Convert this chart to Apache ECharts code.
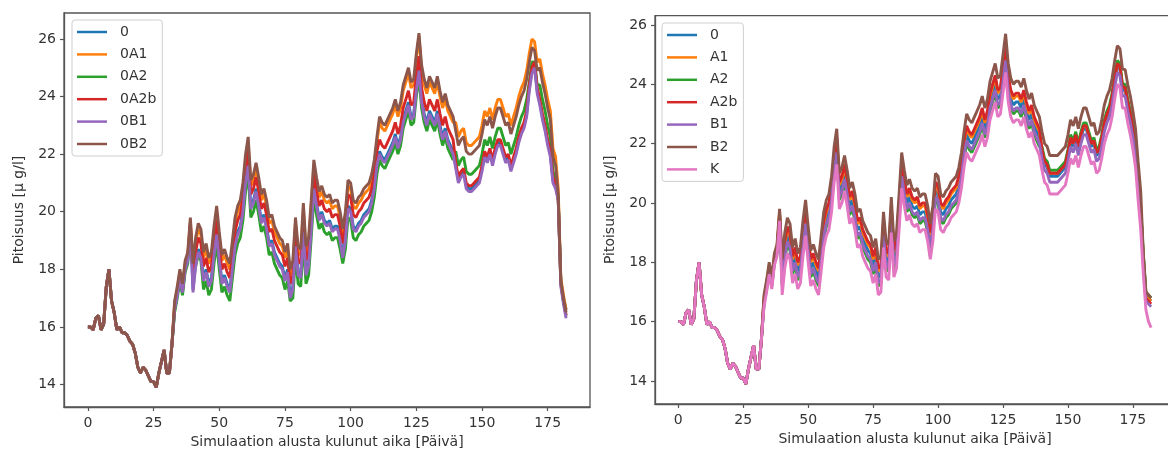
<!DOCTYPE html>
<html><head><meta charset="utf-8">
<script src="https://cdn.jsdelivr.net/npm/echarts@6/dist/echarts.min.js"></script>
<style>html,body{margin:0;padding:0;background:#fff}#c{width:1168px;height:450px}</style>
</head><body><div id="c"></div>
<script>
const X_TITLE = 'Simulaation alusta kulunut aika [Päivä]';
const Y_TITLE = 'Pitoisuus [μ g/l]';
const X_TICKS = [0,25,50,75,100,125,150,175];
const Y_TICKS = [14,16,18,20,22,24,26];
const LEFT_NAMES = ['0','0A1','0A2','0A2b','0B1','0B2'];
const RIGHT_NAMES = ['0','A1','A2','A2b','B1','B2','K'];
const DAYS = Array.from({length:183},(_,i)=>i);

// ---- left panel ----
const L_0 = [
16.0,16.0,15.9,16.3,16.4,15.9,16.1,17.4,18.0,16.9,
16.5,15.9,16.0,15.8,15.8,15.7,15.5,15.4,15.1,14.6,
14.4,14.6,14.5,14.3,14.1,14.1,13.9,14.4,14.8,15.2,
14.4,14.4,15.4,16.6,17.1,17.7,17.2,18.0,18.3,19.5,
17.3,18.2,18.7,18.5,17.7,18.0,17.5,17.7,18.6,19.3,
18.4,17.6,17.8,17.5,17.3,18.1,18.9,19.3,19.5,20.1,
21.1,21.7,20.2,20.4,20.8,20.3,19.7,19.9,19.5,18.9,
19.0,18.6,18.4,18.2,18.1,17.7,18.0,17.1,17.4,18.9,
17.9,17.8,19.4,17.9,18.2,19.5,20.9,20.3,19.8,20.0,
19.7,19.6,19.7,19.4,19.5,19.5,19.1,18.5,19.1,20.2,
20.1,19.5,19.4,19.6,19.7,19.9,20.0,20.1,20.4,20.9,
21.7,22.1,21.9,21.8,22.0,22.2,22.4,22.7,22.3,22.6,
23.2,23.5,23.8,23.3,23.4,24.3,25.0,23.9,23.4,23.1,
23.5,23.3,23.1,23.5,23.0,22.6,22.9,22.5,22.3,22.1,
21.6,21.1,21.3,21.4,20.9,20.8,20.8,20.9,21.0,21.1,
21.5,22.0,21.8,22.1,21.7,22.1,22.4,22.4,22.1,21.8,
21.9,21.5,21.8,22.1,22.5,22.8,23.0,23.4,24.3,24.9,
25.1,24.2,23.8,23.3,22.9,22.4,22.0,21.1,20.9,20.5,
17.6,17.0,16.6];
const L_0A1 = [
16.0,16.0,15.9,16.3,16.4,15.9,16.1,17.4,18.0,16.9,
16.5,15.9,16.0,15.8,15.8,15.7,15.5,15.4,15.1,14.6,
14.4,14.6,14.5,14.3,14.1,14.1,13.9,14.4,14.8,15.2,
14.4,14.4,15.4,16.8,17.3,17.9,17.4,18.2,18.5,19.7,
18.0,18.9,19.4,19.2,18.4,18.7,18.2,18.4,19.3,20.0,
19.1,18.3,18.5,18.2,18.0,18.8,19.6,20.0,20.2,20.8,
21.8,22.4,20.9,21.1,21.5,21.0,20.4,20.6,20.2,19.6,
19.7,19.3,19.1,18.9,18.8,18.4,18.7,17.8,18.1,19.6,
18.6,18.5,20.1,18.6,18.9,20.2,21.6,21.0,20.5,20.7,
20.4,20.3,20.4,20.1,20.2,20.2,19.8,19.2,19.8,20.9,
20.8,20.2,20.1,20.3,20.4,20.6,20.7,20.8,21.1,21.6,
22.4,23.1,22.9,22.8,23.0,23.2,23.4,23.7,23.3,23.6,
24.2,24.5,24.8,24.3,24.4,25.3,26.1,24.9,24.4,24.1,
24.5,24.3,24.1,24.5,24.0,23.6,23.9,23.5,23.3,23.1,
23.1,22.6,22.8,22.9,22.4,22.3,22.3,22.4,22.5,22.6,
23.0,23.5,23.3,23.6,23.2,23.6,23.9,23.9,23.6,23.3,
23.4,23.0,23.3,23.6,24.0,24.3,24.5,24.9,25.5,26.0,
25.9,25.2,25.3,24.8,24.4,23.9,23.5,22.2,21.9,20.8,
17.7,17.1,16.6];
const L_0A2 = [
16.0,16.0,15.9,16.3,16.4,15.9,16.1,17.4,18.0,16.9,
16.5,15.9,16.0,15.8,15.8,15.7,15.5,15.4,15.1,14.6,
14.4,14.6,14.5,14.3,14.1,14.1,13.9,14.4,14.8,15.2,
14.4,14.4,15.4,16.5,17.0,17.6,17.1,17.9,18.2,19.4,
17.9,18.1,18.5,18.3,17.3,17.6,17.1,17.3,18.2,18.9,
18.0,17.2,17.4,17.1,16.9,17.7,18.5,18.9,19.1,19.7,
20.7,21.3,19.8,20.0,20.4,19.9,19.3,19.5,19.1,18.5,
18.6,18.2,18.0,17.8,17.7,17.3,17.6,16.9,17.0,18.5,
17.5,17.4,19.0,17.5,17.8,19.1,20.5,19.9,19.4,19.6,
19.3,19.2,19.3,19.0,19.1,19.1,18.7,18.2,18.7,19.8,
19.7,19.1,19.0,19.2,19.3,19.5,19.6,19.7,20.0,20.5,
21.3,21.8,21.6,21.5,21.7,21.9,22.1,22.4,22.0,22.3,
22.9,23.2,23.5,23.0,23.1,24.0,24.7,23.6,23.1,22.8,
23.2,23.0,22.8,23.2,22.7,22.3,22.6,22.2,22.0,21.8,
22.1,21.6,21.8,21.9,21.4,21.3,21.3,21.4,21.5,21.6,
22.0,22.5,22.3,22.6,22.2,22.6,22.9,22.9,22.6,22.3,
22.4,22.0,22.3,22.6,23.0,23.3,23.5,23.9,24.5,25.2,
25.2,24.4,24.4,23.9,23.5,23.0,22.6,21.4,21.2,20.5,
17.5,16.9,16.4];
const L_0A2b = [
16.0,16.0,15.9,16.3,16.4,15.9,16.1,17.4,18.0,16.9,
16.5,15.9,16.0,15.8,15.8,15.7,15.5,15.4,15.1,14.6,
14.4,14.6,14.5,14.3,14.1,14.1,13.9,14.4,14.8,15.2,
14.4,14.4,15.4,16.7,17.2,17.8,17.3,18.1,18.4,19.6,
17.7,18.6,19.1,18.9,18.1,18.4,17.9,18.1,19.0,19.7,
18.8,18.0,18.2,17.9,17.7,18.5,19.3,19.7,19.9,20.5,
21.5,22.1,20.6,20.8,21.2,20.7,20.1,20.3,19.9,19.3,
19.4,19.0,18.8,18.6,18.5,18.1,18.4,17.5,17.8,19.3,
18.3,18.2,19.8,18.3,18.6,19.9,21.3,20.7,20.2,20.4,
20.1,20.0,20.1,19.8,19.9,19.9,19.5,18.9,19.5,20.6,
20.5,19.9,19.8,20.0,20.1,20.3,20.4,20.5,20.8,21.3,
22.1,22.5,22.3,22.2,22.4,22.6,22.8,23.1,22.7,23.0,
23.6,23.9,24.2,23.7,23.8,24.7,25.4,24.3,23.8,23.5,
23.9,23.7,23.5,23.9,23.4,23.0,23.3,22.9,22.7,22.5,
21.7,21.2,21.4,21.5,21.0,20.9,20.9,21.0,21.1,21.2,
21.6,22.1,21.9,22.2,21.8,22.2,22.5,22.5,22.2,21.9,
22.0,21.6,21.9,22.2,22.6,22.9,23.1,23.5,24.4,25.0,
25.2,24.3,23.9,23.4,23.0,22.5,22.1,21.2,21.0,20.4,
17.5,16.9,16.4];
const L_0B1 = [
16.0,16.0,15.9,16.3,16.4,15.9,16.1,17.4,18.0,16.9,
16.5,15.9,16.0,15.8,15.8,15.7,15.5,15.4,15.1,14.6,
14.4,14.6,14.5,14.3,14.1,14.1,13.9,14.4,14.8,15.2,
14.4,14.4,15.4,16.6,17.1,17.7,17.2,18.0,18.3,19.5,
17.2,18.1,18.6,18.4,17.6,17.9,17.4,17.6,18.5,19.2,
18.3,17.5,17.7,17.4,17.2,18.0,18.8,19.2,19.4,20.0,
21.0,21.6,20.1,20.3,20.7,20.2,19.6,19.8,19.4,18.8,
18.9,18.5,18.3,18.1,18.0,17.6,17.9,17.0,17.3,18.8,
17.8,17.7,19.3,17.8,18.1,19.4,20.8,20.2,19.7,19.9,
19.6,19.5,19.6,19.3,19.4,19.4,19.0,18.4,19.0,20.1,
20.0,19.4,19.3,19.5,19.6,19.8,19.9,20.0,20.3,20.8,
21.6,22.0,21.8,21.7,21.9,22.1,22.3,22.6,22.2,22.5,
23.1,23.4,23.7,23.2,23.3,24.2,24.9,23.8,23.3,23.0,
23.4,23.2,23.0,23.4,22.9,22.5,22.8,22.4,22.2,22.0,
21.5,21.0,21.2,21.3,20.8,20.7,20.7,20.8,20.9,21.0,
21.4,21.9,21.7,22.0,21.6,22.0,22.3,22.3,22.0,21.7,
21.8,21.4,21.7,22.0,22.4,22.7,22.9,23.3,24.2,24.8,
25.0,24.1,23.7,23.2,22.8,22.3,21.9,21.0,20.8,20.4,
17.4,16.8,16.3];
const L_0B2 = [
16.0,16.0,15.9,16.3,16.4,15.9,16.1,17.4,18.0,16.9,
16.5,15.9,16.0,15.8,15.8,15.7,15.5,15.4,15.1,14.6,
14.4,14.6,14.5,14.3,14.1,14.1,13.9,14.4,14.8,15.2,
14.4,14.4,15.4,16.9,17.4,18.0,17.5,18.3,18.6,19.8,
18.2,19.1,19.6,19.4,18.6,18.9,18.4,18.6,19.5,20.2,
19.3,18.5,18.7,18.4,18.2,19.0,19.8,20.2,20.4,21.0,
22.0,22.6,21.1,21.3,21.7,21.2,20.6,20.8,20.4,19.8,
19.9,19.5,19.3,19.1,19.0,18.6,18.9,18.0,18.3,19.8,
18.8,18.7,20.3,18.8,19.1,20.4,21.8,21.2,20.7,20.9,
20.6,20.5,20.6,20.3,20.4,20.4,20.0,19.4,20.0,21.1,
21.0,20.4,20.3,20.5,20.6,20.8,20.9,21.0,21.3,21.8,
22.6,23.3,23.1,23.0,23.2,23.4,23.6,23.9,23.5,23.8,
24.4,24.7,25.0,24.5,24.6,25.5,26.2,25.1,24.6,24.3,
24.7,24.5,24.3,24.7,24.2,23.8,24.1,23.7,23.5,23.3,
22.8,22.3,22.5,22.6,22.1,22.0,22.0,22.1,22.2,22.3,
22.7,23.2,23.0,23.3,22.9,23.3,23.6,23.6,23.3,23.0,
23.1,22.7,23.0,23.3,23.7,24.0,24.2,24.6,25.2,25.7,
25.6,24.9,25.0,24.5,24.1,23.6,23.2,21.9,21.6,20.6,
17.6,17.0,16.5];

// ---- right panel ----
const R_0 = [
16.0,16.0,15.9,16.3,16.4,15.9,16.1,17.4,18.0,16.9,
16.5,15.9,16.0,15.8,15.8,15.7,15.5,15.4,15.1,14.6,
14.4,14.6,14.5,14.3,14.1,14.1,13.9,14.4,14.8,15.2,
14.4,14.4,15.4,16.7,17.2,17.8,17.3,18.1,18.4,19.6,
17.5,18.4,18.9,18.7,17.9,18.2,17.7,17.9,18.8,19.5,
18.6,17.8,18.0,17.7,17.5,18.3,19.1,19.5,19.7,20.3,
21.3,21.9,20.4,20.6,21.0,20.5,19.9,20.1,19.7,19.1,
19.2,18.8,18.6,18.4,18.3,17.9,18.2,17.5,17.6,19.1,
18.1,18.0,19.6,18.1,18.4,19.7,21.1,20.5,20.0,20.2,
19.9,19.8,19.9,19.6,19.7,19.7,19.3,18.7,19.3,20.4,
20.3,19.7,19.6,19.8,19.9,20.1,20.2,20.3,20.6,21.1,
21.8,22.3,22.1,22.0,22.2,22.4,22.6,22.9,22.5,22.8,
23.4,23.7,24.0,23.5,23.6,24.3,25.0,24.0,23.5,23.3,
23.4,23.4,23.2,23.5,23.1,22.8,23.0,22.6,22.4,22.2,
21.7,21.3,21.2,20.9,20.9,20.9,20.9,21.0,21.1,21.2,
21.6,22.1,21.9,22.2,21.8,22.2,22.5,22.5,22.2,21.9,
22.0,21.6,21.7,22.1,22.6,22.9,23.1,23.5,24.1,24.6,
24.5,23.8,23.8,23.3,22.9,22.4,21.8,20.7,19.7,18.2,
16.9,16.8,16.7];
const R_A1 = [
16.0,16.0,15.9,16.3,16.4,15.9,16.1,17.4,18.0,16.9,
16.5,15.9,16.0,15.8,15.8,15.7,15.5,15.4,15.1,14.6,
14.4,14.6,14.5,14.3,14.1,14.1,13.9,14.4,14.8,15.2,
14.4,14.4,15.4,16.8,17.3,17.9,17.4,18.2,18.5,19.7,
17.7,18.6,19.1,18.9,18.1,18.4,17.9,18.1,19.0,19.7,
18.8,18.0,18.2,17.9,17.7,18.5,19.3,19.7,19.9,20.5,
21.5,22.1,20.6,20.8,21.2,20.7,20.1,20.3,19.9,19.3,
19.4,19.0,18.8,18.6,18.5,18.1,18.4,17.7,17.8,19.3,
18.3,18.2,19.8,18.3,18.6,19.9,21.3,20.7,20.2,20.4,
20.1,20.0,20.1,19.8,19.9,19.9,19.5,18.9,19.5,20.6,
20.5,19.9,19.8,20.0,20.1,20.3,20.4,20.5,20.8,21.3,
22.0,22.5,22.3,22.2,22.4,22.6,22.8,23.1,22.7,23.0,
23.6,23.9,24.2,23.7,23.8,24.5,25.2,24.2,23.7,23.5,
23.6,23.6,23.4,23.7,23.3,23.0,23.2,22.8,22.6,22.4,
21.8,21.4,21.3,21.0,21.0,21.0,21.0,21.1,21.2,21.3,
21.7,22.2,22.0,22.3,21.9,22.3,22.6,22.6,22.3,22.0,
22.1,21.7,21.8,22.2,22.7,23.0,23.2,23.6,24.2,24.7,
24.6,23.9,23.9,23.4,23.0,22.5,21.9,20.8,19.8,18.2,
16.9,16.8,16.7];
const R_A2 = [
16.0,16.0,15.9,16.3,16.4,15.9,16.1,17.4,18.0,16.9,
16.5,15.9,16.0,15.8,15.8,15.7,15.5,15.4,15.1,14.6,
14.4,14.6,14.5,14.3,14.1,14.1,13.9,14.4,14.8,15.2,
14.4,14.4,15.4,16.6,17.1,17.7,17.2,18.0,18.3,19.5,
17.2,18.1,18.6,18.4,17.6,17.9,17.4,17.6,18.5,19.2,
18.3,17.5,17.7,17.4,17.2,18.0,18.8,19.2,19.4,20.0,
21.0,21.6,20.1,20.3,20.7,20.2,19.6,19.8,19.4,18.8,
18.9,18.5,18.3,18.1,18.0,17.6,17.9,17.2,17.3,18.8,
17.8,17.7,19.3,17.8,18.1,19.4,20.8,20.2,19.7,19.9,
19.6,19.5,19.6,19.3,19.4,19.4,19.0,18.2,19.0,20.1,
20.0,19.4,19.3,19.5,19.6,19.8,19.9,20.0,20.3,20.8,
21.5,22.0,21.8,21.7,21.9,22.1,22.3,22.6,22.2,22.5,
23.1,23.4,23.7,23.2,23.3,24.0,24.7,23.7,23.2,23.0,
23.1,23.1,22.9,23.2,22.8,22.5,22.7,22.3,22.1,21.9,
21.9,21.5,21.4,21.1,21.1,21.1,21.1,21.2,21.3,21.4,
21.8,22.3,22.1,22.4,22.0,22.4,22.7,22.7,22.4,22.1,
22.2,21.8,21.9,22.3,22.8,23.1,23.3,23.7,24.3,24.8,
24.7,24.0,24.0,23.5,23.1,22.6,22.0,20.9,19.9,18.3,
17.0,16.9,16.8];
const R_A2b = [
16.0,16.0,15.9,16.3,16.4,15.9,16.1,17.4,18.0,16.9,
16.5,15.9,16.0,15.8,15.8,15.7,15.5,15.4,15.1,14.6,
14.4,14.6,14.5,14.3,14.1,14.1,13.9,14.4,14.8,15.2,
14.4,14.4,15.4,16.7,17.2,17.8,17.3,18.1,18.4,19.6,
17.8,18.7,19.2,19.0,18.2,18.5,18.0,18.2,19.1,19.8,
18.9,18.1,18.3,18.0,17.8,18.6,19.4,19.8,20.0,20.6,
21.6,22.2,20.7,20.9,21.3,20.8,20.2,20.4,20.0,19.4,
19.5,19.1,18.9,18.7,18.6,18.2,18.5,17.8,17.9,19.4,
18.4,18.3,19.9,18.4,18.7,20.0,21.4,20.8,20.3,20.5,
20.2,20.1,20.2,19.9,20.0,20.0,19.6,19.0,19.6,20.7,
20.6,20.0,19.9,20.1,20.2,20.4,20.5,20.6,20.9,21.4,
22.1,22.6,22.4,22.3,22.5,22.7,22.9,23.2,22.8,23.1,
23.7,24.0,24.3,23.8,23.9,24.6,25.3,24.3,23.8,23.6,
23.7,23.7,23.5,23.8,23.4,23.1,23.3,22.9,22.7,22.5,
21.8,21.4,21.3,21.0,21.0,21.0,21.0,21.1,21.2,21.3,
21.7,22.2,22.0,22.3,21.9,22.3,22.6,22.6,22.3,22.0,
22.1,21.7,21.8,22.2,22.7,23.0,23.2,23.6,24.2,24.7,
24.6,23.9,23.9,23.4,23.0,22.5,21.9,20.8,19.8,18.1,
16.8,16.7,16.6];
const R_B1 = [
16.0,16.0,15.9,16.3,16.4,15.9,16.1,17.4,18.0,16.9,
16.5,15.9,16.0,15.8,15.8,15.7,15.5,15.4,15.1,14.6,
14.4,14.6,14.5,14.3,14.1,14.1,13.9,14.4,14.8,15.2,
14.4,14.4,15.4,16.6,17.1,17.7,17.2,18.0,18.3,19.5,
17.3,18.2,18.7,18.5,17.7,18.0,17.5,17.7,18.6,19.3,
18.4,17.6,17.8,17.5,17.3,18.1,18.9,19.3,19.5,20.1,
21.1,21.7,20.2,20.4,20.8,20.3,19.7,19.9,19.5,18.9,
19.0,18.6,18.4,18.2,18.1,17.7,18.0,17.3,17.4,18.9,
17.9,17.8,19.4,17.9,18.2,19.5,20.9,20.3,19.8,20.0,
19.7,19.6,19.7,19.4,19.5,19.5,19.1,18.5,19.1,20.2,
20.1,19.5,19.4,19.6,19.7,19.9,20.0,20.1,20.4,20.9,
21.6,22.1,21.9,21.8,22.0,22.2,22.4,22.7,22.3,22.6,
23.2,23.5,23.8,23.3,23.4,24.1,24.8,23.8,23.3,23.1,
23.2,23.2,23.0,23.3,22.9,22.6,22.8,22.4,22.2,22.0,
21.5,21.1,21.0,20.7,20.7,20.7,20.7,20.8,20.9,21.0,
21.4,21.9,21.7,22.0,21.6,22.0,22.3,22.3,22.0,21.7,
21.8,21.4,21.5,21.9,22.4,22.7,22.9,23.3,23.9,24.4,
24.3,23.6,23.6,23.1,22.7,22.2,21.6,20.5,19.5,18.0,
16.7,16.6,16.5];
const R_B2 = [
16.0,16.0,15.9,16.3,16.4,15.9,16.1,17.4,18.0,16.9,
16.5,15.9,16.0,15.8,15.8,15.7,15.5,15.4,15.1,14.6,
14.4,14.6,14.5,14.3,14.1,14.1,13.9,14.4,14.8,15.2,
14.4,14.4,15.4,16.9,17.4,18.0,17.5,18.3,18.6,19.8,
18.1,19.0,19.5,19.3,18.5,18.8,18.3,18.5,19.4,20.1,
19.2,18.4,18.6,18.3,18.1,18.9,19.7,20.1,20.3,20.9,
21.9,22.5,21.0,21.2,21.6,21.1,20.5,20.7,20.3,19.7,
19.8,19.4,19.2,19.0,18.9,18.5,18.8,18.1,18.2,19.7,
18.7,18.6,20.2,18.7,19.0,20.3,21.7,21.1,20.6,20.8,
20.5,20.4,20.5,20.2,20.3,20.3,19.9,19.3,19.9,21.0,
20.9,20.3,20.2,20.4,20.5,20.7,20.8,20.9,21.2,21.7,
22.4,23.0,22.8,22.7,22.9,23.1,23.3,23.6,23.2,23.5,
24.1,24.4,24.7,24.2,24.3,25.0,25.7,24.7,24.2,24.0,
24.1,24.1,23.9,24.2,23.8,23.5,23.7,23.3,23.1,22.9,
22.4,22.0,21.9,21.6,21.6,21.6,21.6,21.7,21.8,21.9,
22.3,22.8,22.6,22.9,22.5,22.9,23.2,23.2,22.9,22.6,
22.7,22.3,22.4,22.8,23.3,23.6,23.8,24.2,24.8,25.3,
25.2,24.5,24.5,24.0,23.6,23.1,22.5,21.4,20.4,18.3,
17.0,16.9,16.8];
const R_K = [
16.0,16.0,15.9,16.3,16.4,15.9,16.1,17.4,18.0,16.9,
16.5,15.9,16.0,15.8,15.8,15.7,15.5,15.4,15.1,14.6,
14.4,14.6,14.5,14.3,14.1,14.1,13.9,14.4,14.8,15.2,
14.4,14.4,15.4,16.5,17.0,17.6,17.1,17.9,18.2,19.4,
16.9,17.8,18.3,18.1,17.3,17.6,17.1,17.3,18.2,18.9,
18.0,17.2,17.4,17.1,16.9,17.7,18.5,18.9,19.1,19.7,
20.7,21.3,19.8,20.0,20.4,19.9,19.3,19.5,19.1,18.5,
18.6,18.2,18.0,17.8,17.7,17.3,17.6,16.9,17.0,18.5,
17.5,17.4,19.0,17.5,17.8,19.1,20.5,19.9,19.4,19.6,
19.3,19.2,19.3,19.0,19.1,19.1,18.7,18.1,18.7,19.8,
19.7,19.1,19.0,19.2,19.3,19.5,19.6,19.7,20.0,20.5,
21.2,21.7,21.5,21.4,21.6,21.8,22.0,22.3,21.9,22.2,
22.8,23.1,23.4,22.9,23.0,23.7,24.4,23.4,22.9,22.7,
22.8,22.8,22.6,22.9,22.5,22.2,22.4,22.0,21.8,21.6,
21.1,20.7,20.6,20.3,20.3,20.3,20.3,20.4,20.5,20.6,
21.0,21.5,21.3,21.6,21.2,21.6,21.9,21.9,21.6,21.3,
21.4,21.0,21.1,21.5,22.0,22.3,22.5,22.9,23.5,24.0,
23.9,23.2,23.2,22.7,22.3,21.8,21.2,20.1,19.1,17.6,
16.4,16.0,15.8];

const COLORS = {'0':'#1f77b4','0A1':'#ff7f0e','0A2':'#2ca02c','0A2b':'#d62728','0B1':'#9467bd','0B2':'#8c564b',
  'A1':'#ff7f0e','A2':'#2ca02c','A2b':'#d62728','B1':'#9467bd','B2':'#8c564b','K':'#e377c2'};
const LEFT_DATA = [L_0, L_0A1, L_0A2, L_0A2b, L_0B1, L_0B2];
const RIGHT_DATA = [R_0, R_A1, R_A2, R_A2b, R_B1, R_B2, R_K];

const TXT = '#333';
const FONT = 'DejaVu Sans';
function mkX(gi, min, max){
  return {type:'value', gridIndex:gi, min:min, max:max,
    name:X_TITLE, nameLocation:'middle', nameGap:28,
    nameTextStyle:{fontSize:14, color:TXT, fontFamily:FONT},
    axisLine:{show:true, onZero:false, lineStyle:{color:'#555', width:1.3}},
    axisTick:{show:true, length:4, lineStyle:{color:'#555', width:1.2}, customValues:X_TICKS},
    axisLabel:{customValues:X_TICKS, fontSize:14, color:TXT, fontFamily:FONT, margin:9},
    splitLine:{show:false}};
}
function mkY(gi, min, max){
  return {type:'value', gridIndex:gi, min:min, max:max,
    name:Y_TITLE, nameLocation:'middle', nameGap:38, nameRotate:90,
    nameTextStyle:{fontSize:14, color:TXT, fontFamily:FONT},
    axisLine:{show:true, onZero:false, lineStyle:{color:'#555', width:1.3}},
    axisTick:{show:true, length:4, lineStyle:{color:'#555', width:1.2}, customValues:Y_TICKS},
    axisLabel:{customValues:Y_TICKS, fontSize:14, color:TXT, fontFamily:FONT, margin:8},
    splitLine:{show:false}};
}
function mkSeries(name, arr, gi){
  return {type:'line', name:name, xAxisIndex:gi, yAxisIndex:gi, symbol:'none', showSymbol:false,
    lineStyle:{width:2.9, color:COLORS[name]}, itemStyle:{color:COLORS[name]},
    data: arr.map((v,i)=>[DAYS[i], v])};
}
function mkLegend(names, left, top){
  return {orient:'vertical', left:left, top:top, data:names, icon:'rect', itemWidth:30, itemHeight:2.5, itemGap:6.4,
    padding:[4,6,4,5], borderColor:'#cfcfcf', borderWidth:1, borderRadius:3,
    backgroundColor:'rgba(255,255,255,0.85)',
    textStyle:{fontSize:14, lineHeight:16, height:16, color:TXT, fontFamily:FONT, padding:[0,0,0,8]}};
}

const series = [];
LEFT_NAMES.forEach((n,i)=>series.push(mkSeries(n, LEFT_DATA[i], 0)));
RIGHT_NAMES.forEach((n,i)=>series.push(mkSeries(n, RIGHT_DATA[i], 1)));

const chart = echarts.init(document.getElementById('c'), null, {renderer:'canvas'});
chart.setOption({
  animation:false,
  backgroundColor:'#fff',
  textStyle:{fontFamily:FONT},
  grid:[
    {left:64, top:13, width:526, height:394, show:true, borderColor:'#555', borderWidth:1.3, containLabel:false, outerBoundsMode:'none'},
    {left:655, top:15.7, width:520, height:388.3, show:true, borderColor:'#555', borderWidth:1.3, containLabel:false, outerBoundsMode:'none'}
  ],
  xAxis:[mkX(0, -9.1, 191.1), mkX(1, -8.96, 191.2)],
  yAxis:[mkY(0, 13.22, 26.9), mkY(1, 13.225, 26.31)],
  legend:[mkLegend(LEFT_NAMES, 72, 20), mkLegend(RIGHT_NAMES, 662, 23)],
  series:series
});
</script></body></html>
